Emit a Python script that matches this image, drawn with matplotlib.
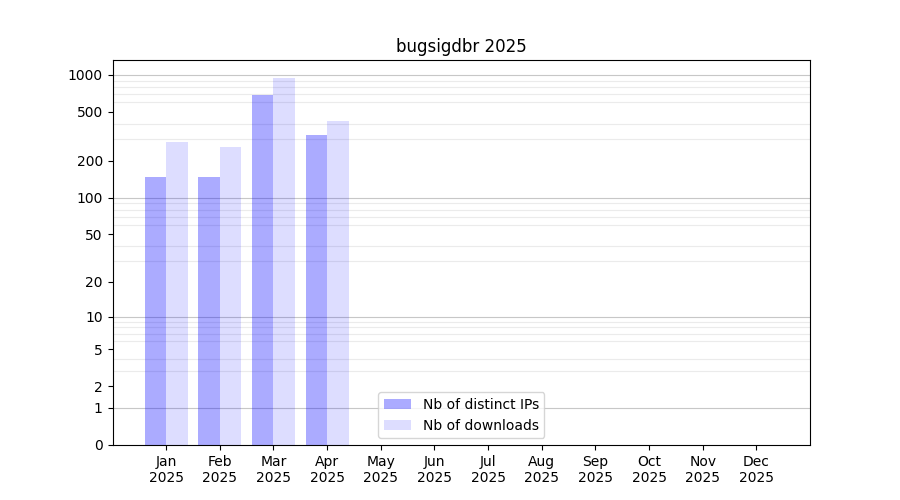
import numpy as np
import matplotlib
matplotlib.use("Agg")
import matplotlib.pyplot as plt
from matplotlib.ticker import FixedLocator

months = ["Jan", "Feb", "Mar", "Apr", "May", "Jun", "Jul", "Aug", "Sep", "Oct", "Nov", "Dec"]
year = "2025"
distinct_ips = [148, 148, 680, 326, 0, 0, 0, 0, 0, 0, 0, 0]
downloads = [286, 260, 947, 424, 0, 0, 0, 0, 0, 0, 0, 0]
yticks = [0, 1, 2, 5, 10, 20, 50, 100, 200, 500, 1000]

def fwd(v):
    return np.log10(np.asarray(v) + 1)

def inv(v):
    return 10 ** np.asarray(v) - 1

fig, ax = plt.subplots(figsize=(9, 5), dpi=100)
x = np.arange(len(months))
ax.bar(x - 0.2, distinct_ips, width=0.4, color="blue", alpha=0.33, label="Nb of distinct IPs", zorder=2)
ax.bar(x + 0.2, downloads, width=0.4, color="blue", alpha=0.135, label="Nb of downloads", zorder=2)

ax.set_yscale("function", functions=(fwd, inv))
ax.set_ylim(0, 1320)
ax.set_xlim(-1, 12)
ax.yaxis.set_major_locator(FixedLocator(yticks))
ax.set_yticklabels([str(t) for t in yticks])
minor = [m * d for d in (1, 10, 100, 1000) for m in range(2, 10)]
ax.yaxis.set_minor_locator(FixedLocator(minor))
ax.tick_params(axis="y", which="minor", length=0)
ax.grid(axis="y", which="minor", color="0.92", linewidth=0.8, zorder=0)
for v in (1, 10, 100, 1000):
    ax.axhline(v, color="0.78", linewidth=0.8, zorder=1)

ax.set_xticks(x)
ax.set_xticklabels([m + "\n" + year for m in months])
ax.set_title("bugsigdbr 2025")
ax.legend(loc="lower center")
plt.savefig("out.png")
